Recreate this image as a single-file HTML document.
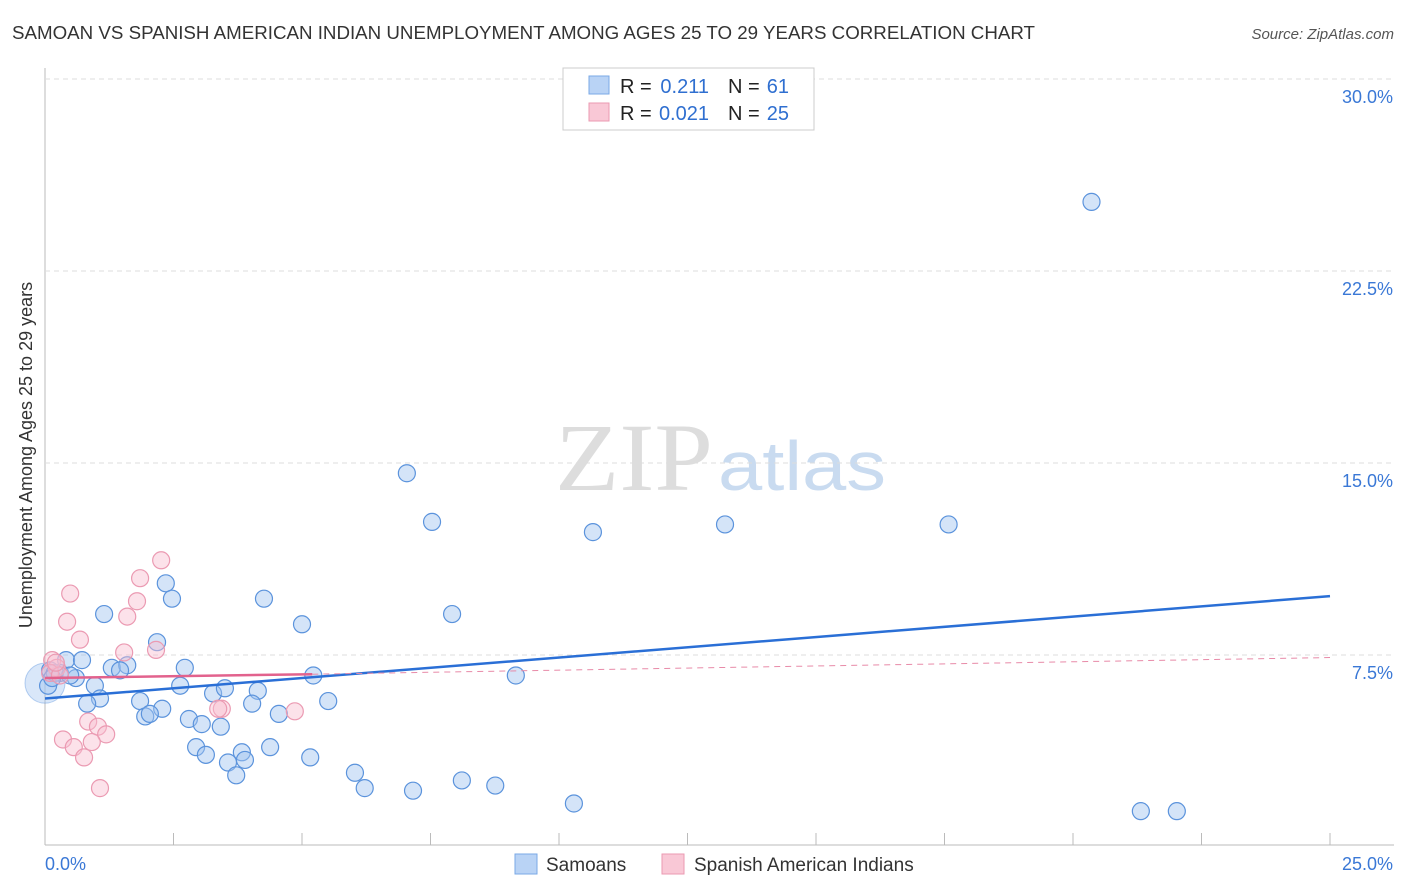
<!DOCTYPE html>
<html><head><meta charset="utf-8"><style>
body{margin:0;background:#fff;font-family:"Liberation Sans",sans-serif}
svg{display:block}
</style></head><body>
<svg id="c" width="1406" height="892" xmlns="http://www.w3.org/2000/svg">
<text x="12" y="39" font-size="18" fill="#333" textLength="1023" lengthAdjust="spacingAndGlyphs">SAMOAN VS SPANISH AMERICAN INDIAN UNEMPLOYMENT AMONG AGES 25 TO 29 YEARS CORRELATION CHART</text>
<text x="1394" y="39" font-size="15" fill="#555" font-style="italic" text-anchor="end">Source: ZipAtlas.com</text>
<text x="32" y="455" font-size="18" fill="#333" text-anchor="middle" transform="rotate(-90 32 455)">Unemployment Among Ages 25 to 29 years</text>
<text x="555" y="490" font-size="96" fill="#ddd" font-family="Liberation Serif,serif" textLength="158" lengthAdjust="spacingAndGlyphs">ZIP</text>
<text x="718" y="490" font-size="70" fill="#c9dbf0" textLength="168" lengthAdjust="spacingAndGlyphs">atlas</text>
<g id="grid"></g><g id="marks"></g>
<g>
<rect x="563" y="68" width="251" height="62" fill="#fff" stroke="#ccc"/>
<rect x="589" y="76" width="20" height="18" fill="#b9d3f5" stroke="#7aa8e6"/>
<rect x="589" y="103" width="20" height="18" fill="#f9c8d6" stroke="#eb9ab2"/>
<text x="620" y="93" font-size="20" fill="#222">R =</text>
<text x="709" y="93" font-size="20" fill="#2f6fd0" text-anchor="end">0.211</text>
<text x="728" y="93" font-size="20" fill="#222">N =</text>
<text x="789" y="93" font-size="20" fill="#2f6fd0" text-anchor="end">61</text>
<text x="620" y="120" font-size="20" fill="#222">R =</text>
<text x="709" y="120" font-size="20" fill="#2f6fd0" text-anchor="end">0.021</text>
<text x="728" y="120" font-size="20" fill="#222">N =</text>
<text x="789" y="120" font-size="20" fill="#2f6fd0" text-anchor="end">25</text>
</g>
<g>
<rect x="515" y="854" width="22" height="20" fill="#b9d3f5" stroke="#7aa8e6"/>
<text x="546" y="871" font-size="19" fill="#333">Samoans</text>
<rect x="662" y="854" width="22" height="20" fill="#f9c8d6" stroke="#eb9ab2"/>
<text x="694" y="871" font-size="19" fill="#333">Spanish American Indians</text>
</g>
</svg>
<script>
const yTicks=[7.5,15,22.5,30];
const yTickLabels=["7.5%","15.0%","22.5%","30.0%"];
const xTickLabels=["0.0%","25.0%"];
const blueX=[20.36,7.04,7.53,10.66,13.23,17.58,2.35,2.47,1.15,4.26,5.00,7.92,2.18,0.41,0.72,1.30,1.60,1.46,2.72,5.22,9.16,0.60,0.29,0.10,0.97,2.63,1.07,3.27,3.50,4.14,0.82,1.85,2.28,4.03,5.51,1.95,2.04,2.80,3.05,3.42,4.55,2.94,3.13,3.83,4.38,3.56,3.89,5.16,3.72,6.03,6.22,7.16,8.11,8.76,10.29,21.32,22.02,0.06,0.19,0.49,0.14];
const blueY=[25.2,14.6,12.7,12.3,12.6,12.6,10.3,9.7,9.1,9.7,8.7,9.1,8.0,7.3,7.3,7.0,7.1,6.9,7.0,6.7,6.7,6.6,6.8,6.9,6.3,6.3,5.8,6.0,6.2,6.1,5.6,5.7,5.4,5.6,5.7,5.1,5.2,5.0,4.8,4.7,5.2,3.9,3.6,3.7,3.9,3.3,3.4,3.5,2.8,2.9,2.3,2.2,2.6,2.4,1.7,1.4,1.4,6.3,6.8,6.7,6.6];
const pinkX=[2.26,1.85,0.49,1.79,1.60,0.43,0.68,2.16,1.54,0.14,0.23,0.10,0.29,3.44,3.37,4.86,0.84,1.03,1.19,0.35,0.56,0.91,0.76,1.07,0.21];
const pinkY=[11.2,10.5,9.9,9.6,9.0,8.8,8.1,7.7,7.6,7.3,7.0,6.8,6.7,5.4,5.4,5.3,4.9,4.7,4.4,4.2,3.9,4.1,3.5,2.3,7.2];
const blueTrend=[5.8,9.8];
const pinkTrend=[6.6,6.75,7.4];
const NS="http://www.w3.org/2000/svg";
const X=v=>45+v/25*1285, Y=v=>847-v/7.5*192;
const grid=document.getElementById('grid'), marks=document.getElementById('marks');
function mk(tag,a,p){const e=document.createElementNS(NS,tag);for(const k in a)e.setAttribute(k,a[k]);p.appendChild(e);return e;}
mk('line',{x1:45,y1:68,x2:45,y2:845,stroke:'#bbb'},grid);
mk('line',{x1:45,y1:845,x2:1394,y2:845,stroke:'#bbb'},grid);
mk('line',{x1:45,y1:79,x2:1394,y2:79,stroke:'#ddd','stroke-dasharray':'5,4'},grid);
yTicks.forEach((t,i)=>{
 const g=mk('line',{x1:45,y1:Y(t),x2:1394,y2:Y(t),stroke:'#ddd','stroke-dasharray':'5,4'},grid);
 
 
 const tx=mk('text',{x:1393,y:Y(t)+24,'font-size':18,fill:'#3a78d6','text-anchor':'end'},grid);
 tx.textContent=yTickLabels[i];
 
 
});
for(let i=0;i<=10;i++){const l=mk('line',{x1:X(i*2.5),y1:833,x2:X(i*2.5),y2:845,stroke:'#bbb'},grid);
 
 }
[[0,'start',45],[1,'end',1393]].forEach(([i,a,x])=>{const t=mk('text',{x:x,y:870,'font-size':18,fill:'#3a78d6','text-anchor':a},grid);t.textContent=xTickLabels[i];
 
 });
const big=mk('circle',{cx:X(0),cy:Y(6.4),r:20,fill:'rgba(160,195,240,0.4)',stroke:'rgba(80,140,220,0.4)'},marks);


blueX.forEach((v,i)=>{const c=mk('circle',{cx:X(v),cy:Y(blueY[i]),r:8.5,fill:'rgba(160,195,240,0.45)',stroke:'#5b93dc','stroke-width':1.2},marks);
 
 });
pinkX.forEach((v,i)=>{const c=mk('circle',{cx:X(v),cy:Y(pinkY[i]),r:8.5,fill:'rgba(248,190,208,0.45)',stroke:'#eb9ab2','stroke-width':1.2},marks);
 
 });
let l=mk('line',{x1:X(0),y1:Y(blueTrend[0]),x2:X(25),y2:Y(blueTrend[1]),stroke:'#2a6fd6','stroke-width':2.5},marks);


l=mk('line',{x1:X(0),y1:Y(pinkTrend[0]),x2:X(5.2),y2:Y(pinkTrend[1]),stroke:'#e2628d','stroke-width':2.5},marks);


l=mk('line',{x1:X(5.2),y1:Y(pinkTrend[1]),x2:X(25),y2:Y(pinkTrend[2]),stroke:'#e88aa8','stroke-width':1,'stroke-dasharray':'6,5'},marks);


</script>
</body></html>
